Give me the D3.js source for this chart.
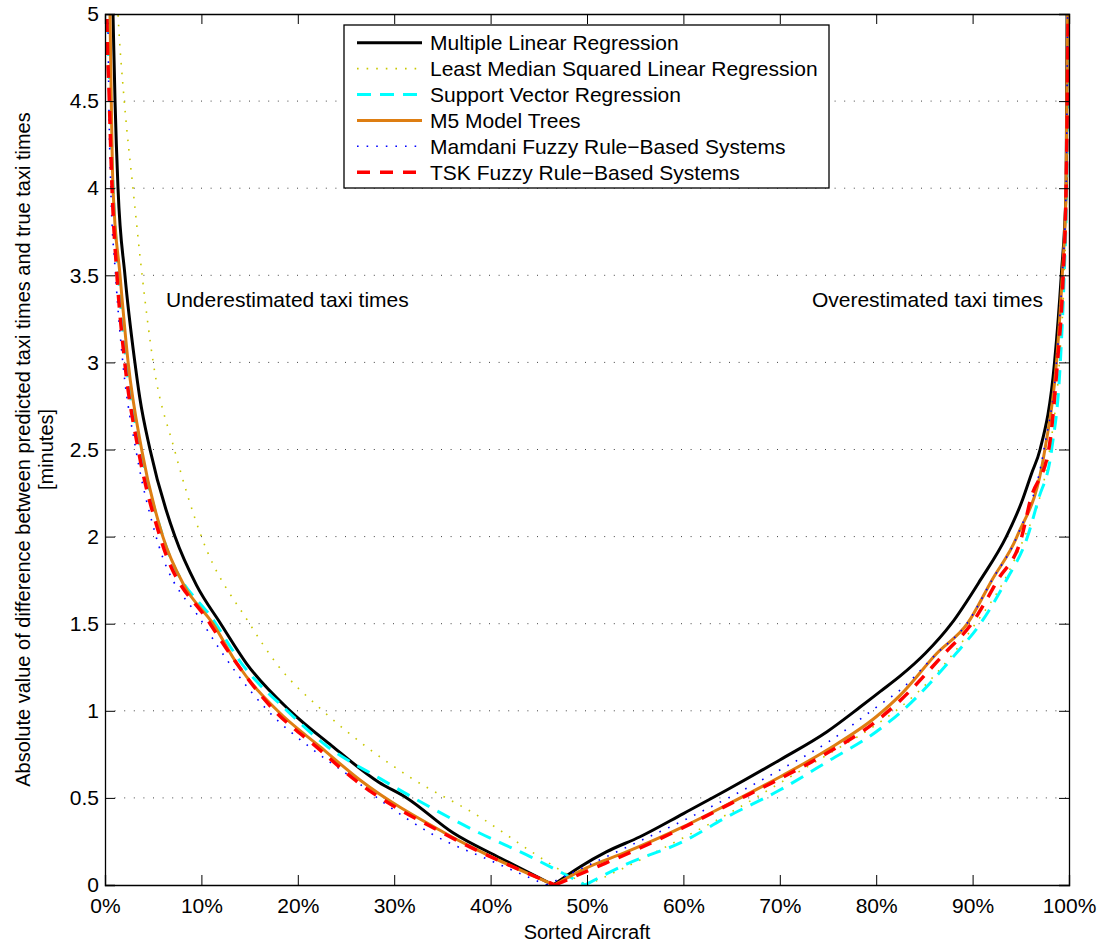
<!DOCTYPE html>
<html>
<head>
<meta charset="utf-8">
<script src="https://cdn.jsdelivr.net/npm/d3@7"></script>
<style>
  body { margin: 0; background: #fff; }
  svg text { font-family: "Liberation Sans", Arial, sans-serif; fill: #000; }
</style>
</head>
<body>
<script>
// series names, in legend / drawing order
var seriesNames = [
  "Multiple Linear Regression",
  "Least Median Squared Linear Regression",
  "Support Vector Regression",
  "M5 Model Trees",
  "Mamdani Fuzzy Rule\u2212Based Systems",
  "TSK Fuzzy Rule\u2212Based Systems"
];

// [sorted aircraft %, |error| minutes]
var mlrPts = [[0.6,5.5],[0.83,5],[1.04,4.5],[1.35,4],[2.07,3.5],[3.1,3],[3.6,2.8],[4.67,2.5],[7.26,2],[9.5,1.72],[12,1.5],[14.7,1.27],[19.2,1],[23.5,0.8],[28.4,0.59],[31.3,0.5],[36.1,0.3],[41,0.155],[46.5,0],
  [49.3,0.105],[52,0.19],[55.5,0.277],[60,0.41],[64.5,0.545],[70,0.718],[74.9,0.88],[78.3,1.02],[80.4,1.11],[82.5,1.2],[85.1,1.33],[87.8,1.5],[90.8,1.75],[93.5,2],[95.1,2.2],[96.1,2.36],[97,2.5],[98.5,3],[99.2,3.5],[99.7,4],[99.8,5],[99.85,5.5]];
var lmsPts = [[0.9,5.6],[1.35,5],[2,4.5],[2.9,4],[3.85,3.5],[5,3],[7.2,2.5],[10,2],[15,1.5],[17.8,1.27],[22.6,1],[27.1,0.794],[31.6,0.62],[38.9,0.39],[44,0.2],[48,0.06],[50,0],
  [52,0.05],[55,0.13],[59.6,0.26],[65,0.42],[70,0.585],[75,0.75],[80,0.92],[82.5,1.02],[86,1.2],[90.3,1.5],[93.3,1.75],[95.4,2],[96.9,2.21],[98,2.5],[99,3],[99.5,3.5],[99.75,4],[99.9,5],[99.95,5.5]];
var svrPts = [[0.2,5.5],[0.3,5],[0.55,4.5],[0.85,4],[1.4,3.5],[2.2,3],[3.7,2.5],[6,2],[11.5,1.5],[14.2,1.27],[18.9,1],[23.1,0.794],[28.5,0.612],[38.9,0.297],[44.1,0.163],[49.8,0],
  [54.1,0.12],[60,0.25],[64.5,0.39],[70,0.545],[75,0.71],[80,0.88],[82.5,0.99],[88.3,1.33],[90.8,1.5],[93.5,1.75],[95.7,2],[96.8,2.21],[98.2,2.5],[99.1,3],[99.5,3.5],[99.75,4],[99.9,5],[99.95,5.5]];
var m5Pts = [[0.4,5.5],[0.52,5],[0.65,4.5],[0.83,4],[1.56,3.5],[2.4,3],[3.8,2.5],[6,2],[8.2,1.72],[11.2,1.5],[13.7,1.27],[17.9,1],[22.3,0.794],[26.45,0.603],[35.3,0.297],[46.6,0],
  [50,0.1],[54.1,0.19],[60,0.335],[64.5,0.46],[70,0.62],[74.9,0.775],[80,0.966],[82.5,1.09],[86.3,1.33],[89.45,1.5],[92,1.75],[94.6,2],[97.5,2.5],[98.7,3],[99.3,3.5],[99.7,4],[99.85,5],[99.9,5.5]];
var mamdaniPts = [[0.2,5.5],[0.3,5],[0.4,4.5],[0.6,4],[1.1,3.5],[1.85,3],[3.2,2.5],[5.3,2],[10.2,1.5],[16.9,1],[21.5,0.78],[25.5,0.62],[28.5,0.49],[34,0.29],[40,0.14],[45.8,0],
  [50,0.11],[55,0.24],[60,0.37],[65,0.51],[70,0.66],[75,0.82],[80,1.02],[82.5,1.12],[86.3,1.33],[89.4,1.5],[92,1.75],[94.6,2],[97.4,2.5],[98.7,3],[99.3,3.5],[99.7,4],[99.85,5],[99.9,5.5]];
var tskPts = [[0.15,5.5],[0.2,5],[0.45,4.5],[0.73,4],[1.24,3.5],[2.05,3],[3.45,2.5],[5.7,2],[10.9,1.5],[17.6,1],[22,0.79],[26,0.6],[35,0.3],[46.7,0],
  [50,0.08],[55,0.2],[60,0.33],[65,0.47],[70,0.61],[75,0.76],[80,0.94],[82.5,1.06],[87.1,1.33],[89.9,1.5],[92.6,1.75],[95.1,2],[96,2.21],[97.9,2.5],[98.8,3],[99.4,3.5],[99.7,4],[99.9,5],[99.95,5.5]];
var allSeries = [mlrPts, lmsPts, svrPts, m5Pts, mamdaniPts, tskPts];

var xTicks = [0,10,20,30,40,50,60,70,80,90,100];
var yTicks = [0,0.5,1,1.5,2,2.5,3,3.5,4,4.5,5];
var xTitle = "Sorted Aircraft";
var yTitle = ["Absolute value of difference between predicted taxi times and true taxi times", "[minutes]"];
var notes = ["Underestimated taxi times", "Overestimated taxi times"];

// line styles (same order as seriesNames)
var styles = [
  {color: "#000000", width: 3,   dash: null},
  {color: "#c8c800", width: 1.6, dash: "1.6,8"},
  {color: "#00ffff", width: 3,   dash: "14,9"},
  {color: "#de7e12", width: 3,   dash: null},
  {color: "#0000ff", width: 1.6, dash: "1.6,8"},
  {color: "#ff0000", width: 3.5, dash: "13,10"}
];

var W = 1100, H = 943,
    L = 105, R = 1069, T = 14, B = 885;

var svg = d3.select("body").append("svg")
    .attr("width", W).attr("height", H);

var x = d3.scaleLinear().domain([0, 100]).range([L, R]);
var y = d3.scaleLinear().domain([0, 5]).range([B, T]);

svg.append("clipPath").attr("id", "plotclip")
  .append("rect").attr("x", L).attr("y", T).attr("width", R - L).attr("height", B - T);

// dotted horizontal grid
svg.append("g").selectAll("line")
    .data(yTicks.filter(function(d){ return d > 0 && d < 5; }))
    .enter().append("line")
    .attr("x1", L).attr("x2", R)
    .attr("y1", function(d){ return y(d); })
    .attr("y2", function(d){ return y(d); })
    .attr("stroke", "#444")
    .attr("stroke-width", 1)
    .attr("stroke-dasharray", "1,8.6");

// curves: each series split at its minimum so the V stays sharp
var line = d3.line()
    .x(function(d){ return x(d[0]); })
    .y(function(d){ return y(d[1]); })
    .curve(d3.curveMonotoneX);

function vPath(pts) {
  var k = d3.minIndex(pts, function(d){ return d[1]; });
  return line(pts.slice(0, k + 1)) + line(pts.slice(k));
}

svg.append("g").attr("clip-path", "url(#plotclip)")
  .selectAll("path")
    .data(allSeries)
    .enter().append("path")
    .attr("d", vPath)
    .attr("fill", "none")
    .attr("stroke", function(d, i){ return styles[i].color; })
    .attr("stroke-width", function(d, i){ return styles[i].width; })
    .attr("stroke-dasharray", function(d, i){ return styles[i].dash; })
    .attr("stroke-linejoin", "round");

// axes, ticks pointing inward
var fs = "21px";
svg.append("g").attr("transform", "translate(0," + B + ")")
    .call(d3.axisBottom(x).tickValues(xTicks).tickSize(-10).tickPadding(13)
      .tickFormat(function(d){ return d + "%"; }));
svg.append("g").attr("transform", "translate(" + L + ",0)")
    .call(d3.axisLeft(y).tickValues(yTicks).tickSize(-10).tickPadding(6)
      .tickFormat(function(d){ return String(d); }));
svg.append("g").attr("transform", "translate(0," + T + ")")
    .call(d3.axisTop(x).tickValues(xTicks).tickSize(-10).tickFormat(""));
svg.append("g").attr("transform", "translate(" + R + ",0)")
    .call(d3.axisRight(y).tickValues(yTicks).tickSize(-10).tickFormat(""));

svg.selectAll(".domain").attr("stroke", "#000").attr("stroke-width", 1.3);
svg.selectAll(".tick line").attr("stroke", "#000").attr("stroke-width", 1);
svg.selectAll(".tick text").style("font-size", fs).attr("fill", "#000")
    .style("font-family", "'Liberation Sans', Arial, sans-serif");

// axis titles
svg.append("text")
    .attr("x", (L + R) / 2).attr("y", 939)
    .attr("text-anchor", "middle")
    .style("font-size", "20px")
    .text(xTitle);

svg.selectAll(".ytitle")
    .data(yTitle)
    .enter().append("text")
    .attr("class", "ytitle")
    .attr("text-anchor", "middle")
    .attr("transform", function(d, i){ return "translate(" + (30 + i * 23) + "," + ((T + B) / 2) + ") rotate(-90)"; })
    .style("font-size", "20px")
    .text(function(d){ return d; });

// annotations
svg.append("text").attr("x", 166).attr("y", 307).style("font-size", fs).text(notes[0]);
svg.append("text").attr("x", 1043).attr("y", 307).attr("text-anchor", "end").style("font-size", fs).text(notes[1]);

// legend
var lg = svg.append("g");
lg.append("rect")
    .attr("x", 344).attr("y", 25).attr("width", 485).attr("height", 163)
    .attr("fill", "#fff").attr("stroke", "#000").attr("stroke-width", 1.3);
var rows = lg.selectAll(".row")
    .data(seriesNames)
    .enter().append("g")
    .attr("transform", function(d, i){ return "translate(0," + (42.7 + i * 25.9) + ")"; });
rows.append("line")
    .attr("x1", 357).attr("x2", 422)
    .attr("stroke", function(d, i){ return styles[i].color; })
    .attr("stroke-width", function(d, i){ return styles[i].width; })
    .attr("stroke-dasharray", function(d, i){ return styles[i].dash; });
rows.append("text")
    .attr("x", 430).attr("dy", "0.35em")
    .style("font-size", fs)
    .text(function(d){ return d; });
</script>
</body>
</html>
